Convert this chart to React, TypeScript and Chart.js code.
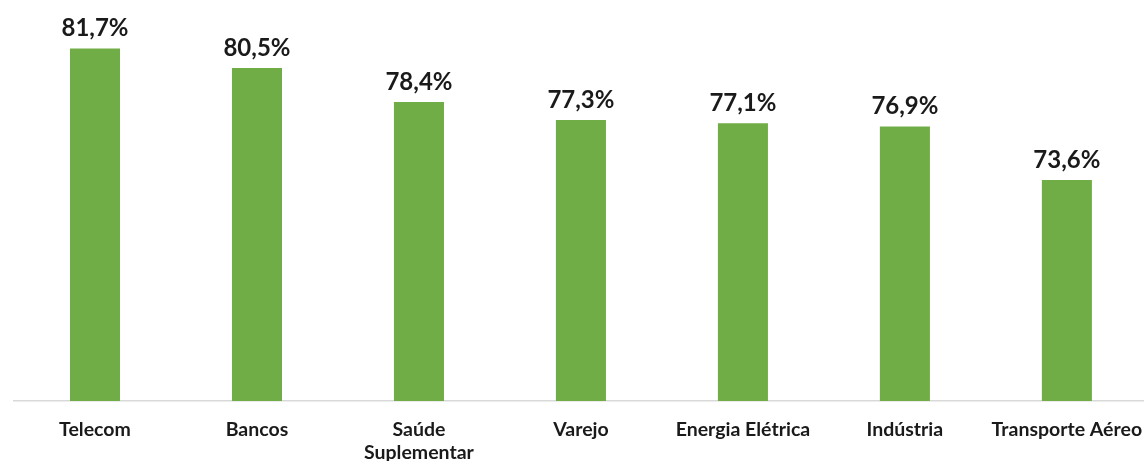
import React, { useEffect, useRef } from "react";
import { Chart, registerables } from "chart.js";

Chart.register(...registerables);

const categories: (string | string[])[] = [
  "Telecom",
  "Bancos",
  ["Saúde", "Suplementar"],
  "Varejo",
  "Energia Elétrica",
  "Indústria",
  "Transporte Aéreo",
];
const values: number[] = [81.7, 80.5, 78.4, 77.3, 77.1, 76.9, 73.6];
const valueLabels: string[] = ["81,7%", "80,5%", "78,4%", "77,3%", "77,1%", "76,9%", "73,6%"];

const FONT = "Lato, 'Open Sans', sans-serif";

const labelPlugin = {
  id: "valueLabels",
  afterDatasetsDraw(chart: any) {
    const ctx = chart.ctx;
    const meta = chart.getDatasetMeta(0);
    ctx.save();
    ctx.font = `bold 24px ${FONT}`;
    ctx.fillStyle = "#1a1a1a";
    ctx.textAlign = "center";
    ctx.textBaseline = "alphabetic";
    meta.data.forEach((bar: any, i: number) => {
      ctx.fillText(valueLabels[i], bar.x, bar.y - 12);
    });
    ctx.restore();
  },
};

export default function App() {
  const ref = useRef<HTMLCanvasElement>(null);
  useEffect(() => {
    document.body.style.overflow = "hidden";
    const chart = new Chart(ref.current!, {
      type: "bar",
      data: {
        labels: categories,
        datasets: [
          {
            data: values,
            backgroundColor: "#70AD47",
            barPercentage: 0.309,
            categoryPercentage: 1,
          },
        ],
      },
      options: {
        animation: false,
        responsive: false,
        maintainAspectRatio: false,
        layout: { padding: { top: 3, left: 14, right: 12, bottom: 0 } },
        plugins: { legend: { display: false }, tooltip: { enabled: false } },
        scales: {
          y: { display: false, min: 60, max: 84.5 },
          x: {
            afterFit: (s: any) => {
              s.height = 60;
            },
            grid: { display: false, drawTicks: false },
            border: { display: true, color: "#d9d9d9", width: 1.5 },
            ticks: {
              color: "#1a1a1a",
              font: { family: FONT, size: 19.5, weight: "bold", lineHeight: 1.18 },
              padding: 17,
              maxRotation: 0,
              autoSkip: false,
            },
          },
        },
      },
      plugins: [labelPlugin],
    });
    return () => chart.destroy();
  }, []);
  return (
    <div style={{ position: "fixed", left: 0, top: 0, width: 1160, height: 461 }}>
      <canvas ref={ref} width={1160} height={461} style={{ width: 1160, height: 461 }} />
    </div>
  );
}
